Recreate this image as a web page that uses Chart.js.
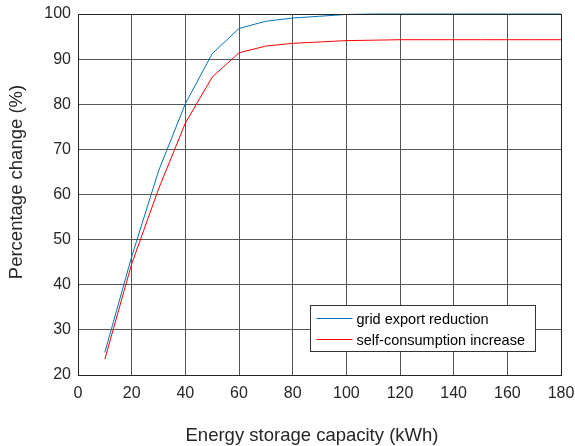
<!DOCTYPE html>
<html>
<head>
<meta charset="utf-8">
<script src="https://cdn.jsdelivr.net/npm/chart.js@4"></script>
<style>
  html, body { margin: 0; padding: 0; background: #fff; }
  #wrap { width: 575px; height: 446px; }
</style>
</head>
<body>
<div id="wrap"><canvas id="myChart" width="575" height="446"></canvas></div>
<script>
const capacity = [10, 20, 30, 40, 50, 60, 70, 80, 90, 100, 110, 120, 130, 140, 150, 160, 170, 180];
const exportReduction = [25.0, 46.2, 65.2, 80.1, 91.2, 96.8, 98.4, 99.1, 99.5, 99.9, 100, 100, 100, 100, 100, 100, 100, 100];
const selfConsumption = [23.5, 44.6, 61.2, 75.8, 86.0, 91.4, 92.9, 93.5, 93.8, 94.1, 94.2, 94.3, 94.3, 94.3, 94.3, 94.3, 94.3, 94.3];
const xTicks = [0, 20, 40, 60, 80, 100, 120, 140, 160, 180];
const yTicks = [20, 30, 40, 50, 60, 70, 80, 90, 100];
const xTitle = 'Energy storage capacity (kWh)';
const yTitle = 'Percentage change (%)';

const font = "'Liberation Sans', Arial, sans-serif";

// frame round the plot area, axis titles and the legend box inside the plot
const framePlugin = {
    id: 'frame',
    afterDraw(chart) {
        const {ctx, chartArea: a} = chart;
        ctx.save();
        ctx.strokeStyle = '#262626';
        ctx.lineWidth = 1;
        ctx.strokeRect(a.left + 0.5, a.top + 0.5, a.right - a.left, a.bottom - a.top);

        ctx.fillStyle = '#262626';
        ctx.font = `18.5px ${font}`;
        ctx.textAlign = 'center';
        ctx.textBaseline = 'middle';
        ctx.fillText(xTitle, 312, 436);
        ctx.save();
        ctx.translate(17, 182);
        ctx.rotate(-Math.PI / 2);
        ctx.fillText(yTitle, 0, 0);
        ctx.restore();

        const bx = 310.5, by = 305.5, bw = 225, bh = 46;
        ctx.fillStyle = '#fff';
        ctx.fillRect(bx, by, bw, bh);
        ctx.strokeStyle = '#333';
        ctx.strokeRect(bx, by, bw, bh);
        ctx.font = `14.5px ${font}`;
        ctx.textAlign = 'left';
        chart.data.datasets.forEach((ds, i) => {
            const y = by + 13 + i * 21;
            ctx.strokeStyle = ds.borderColor;
            ctx.beginPath();
            ctx.moveTo(bx + 6, y);
            ctx.lineTo(bx + 42, y);
            ctx.stroke();
            ctx.fillStyle = '#000';
            ctx.fillText(ds.label, bx + 46, y + 1);
        });
        ctx.restore();
    }
};

const ctx = document.getElementById('myChart').getContext('2d');
const chart = new Chart(ctx, {
    type: 'line',
    data: {
        datasets: [
            {
                label: 'grid export reduction',
                data: capacity.map((c, i) => ({x: c, y: exportReduction[i]})),
                borderColor: '#0072BD',
                borderWidth: 1,
                pointRadius: 0,
                tension: 0,
                clip: 4,
            },
            {
                label: 'self-consumption increase',
                data: capacity.map((c, i) => ({x: c, y: selfConsumption[i]})),
                borderColor: '#FF0000',
                borderWidth: 1,
                pointRadius: 0,
                tension: 0,
                clip: 4,
            },
        ],
    },
    options: {
        responsive: false,
        animation: false,
        layout: {padding: {left: 0, right: 14, top: 14, bottom: 0}},
        plugins: {
            legend: {display: false},
            tooltip: {enabled: false},
        },
        scales: {
            x: {
                type: 'linear',
                min: 0,
                max: 180,
                afterBuildTicks: (s) => { s.ticks = xTicks.map(v => ({value: v})); },
                afterFit: (s) => { s.height = 71; s.paddingLeft = 0; s.paddingRight = 0; },
                grid: {color: '#555', lineWidth: 1, drawTicks: false},
                border: {display: false},
                ticks: {color: '#262626', font: {family: font, size: 16}, padding: 9, maxRotation: 0},
            },
            y: {
                min: 20,
                max: 100,
                afterBuildTicks: (s) => { s.ticks = yTicks.map(v => ({value: v})); },
                afterFit: (s) => { s.width = 78; s.paddingTop = 0; s.paddingBottom = 0; },
                grid: {color: '#555', lineWidth: 1, drawTicks: false},
                border: {display: false},
                ticks: {color: '#262626', font: {family: font, size: 16}, padding: 7},
            },
        },
    },
    plugins: [framePlugin],
});
</script>
</body>
</html>
